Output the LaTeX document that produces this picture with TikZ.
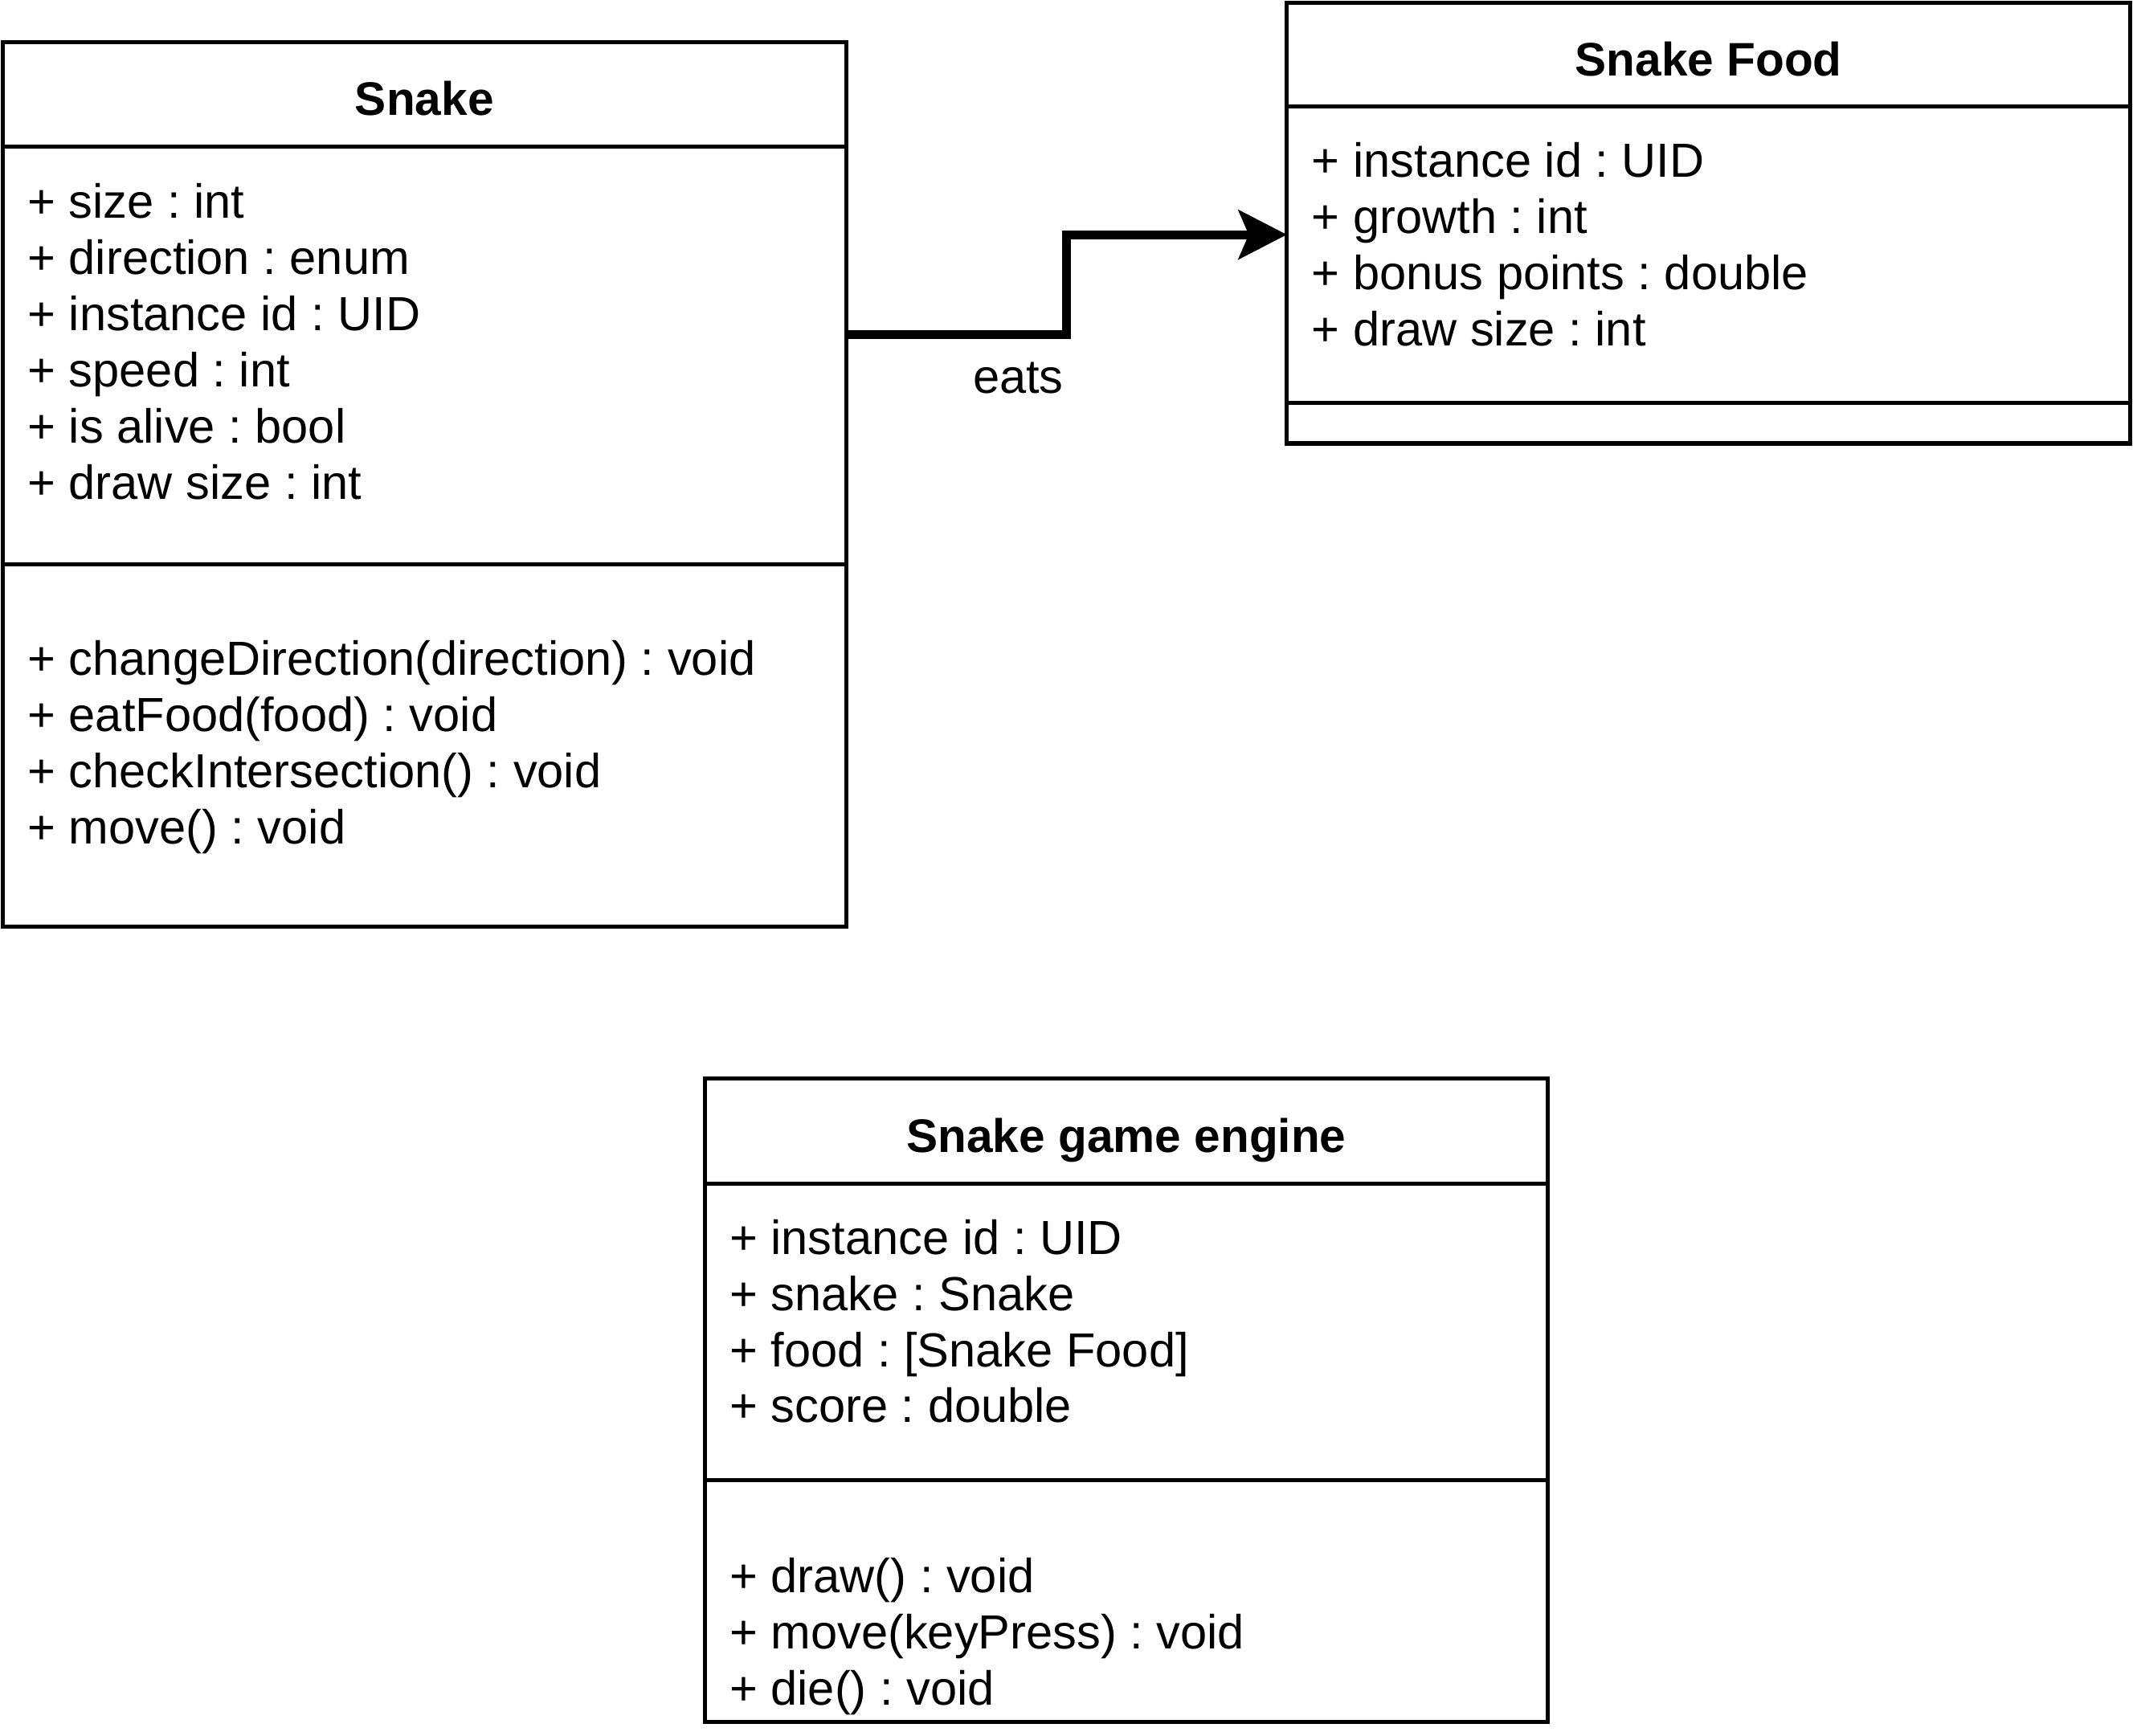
\documentclass[tikz,border=0pt]{standalone}
\usepackage{fontspec}
\setmainfont{Liberation Sans}
\usetikzlibrary{calc,arrows.meta}
\frenchspacing
\begin{document}
\begin{tikzpicture}[x=0.5pt,y=-0.5pt,
  part/.style={draw,line width=1.5pt,inner sep=0pt,outer sep=0pt,anchor=north west,minimum width=310pt},
  txt/.style={font=\fontsize{17.6}{20.65}\selectfont\frenchspacing,align=left,anchor=base west,inner sep=0pt},
  head/.style={font=\fontsize{17.3}{20.65}\selectfont\bfseries,anchor=base,inner sep=0pt},
  lbl/.style={font=\fontsize{17.6}{20.65}\selectfont,anchor=base,inner sep=0pt},
  conn/.style={line width=3.2pt,-{Stealth[length=17.75pt,width=18pt,inset=3.75pt]}}]
\useasboundingbox (0,0) rectangle (1568,1276);

% Snake
\node[part,minimum height=38.5pt] (snakehead) at (2,31) {};
\node[part,minimum height=153.5pt] (snakeattr) at (2,108) {};
\node[part,minimum height=133pt] (snakemeth) at (2,415) {};
\node[head] (snaketitle) at (312,85) {Snake};
% base anchor of a multi-line node is the last line's baseline
\node[txt] (snakeattrtxt) at (20,367) {+ size : int\\+ direction : enum\\+ instance id : UID\\+ speed : int\\+ is alive : bool\\+ draw size : int};
\node[txt] (snakemethtxt) at (20,620.4) {+ changeDirection(direction) : void\\+ eatFood(food) : void\\+ checkIntersection() : void\\+ move() : void};

% Snake Food
\node[part,minimum height=38pt] (foodhead) at (946,2) {};
\node[part,minimum height=109pt] (foodattr) at (946,78) {};
\node[part,minimum height=15pt] (foodmeth) at (946,296) {};
\node[head] (foodtitle) at (1256,56) {Snake Food};
\node[txt] (foodattrtxt) at (964,254.4) {+ instance id : UID\\+ growth : int\\+ bonus points : double\\+ draw size : int};

% Snake game engine
\node[part,minimum height=38.5pt] (enghead) at (518,793) {};
\node[part,minimum height=109pt] (engattr) at (518,870) {};
\node[part,minimum height=89pt] (engmeth) at (518,1088) {};
\node[head] (engtitle) at (828,847) {Snake game engine};
\node[txt] (engattrtxt) at (536,1045.9) {+ instance id : UID\\+ snake : Snake\\+ food : [Snake Food]\\+ score : double};
\node[txt] (engmethtxt) at (536,1253.6) {+ draw() : void\\+ move(keyPress) : void\\+ die() : void};

% eats connector
\coordinate (src) at ($(snakeattr.north east)+(0,138)$);
\coordinate (dst) at ($(foodattr.north west)+(0,94.5)$);
\draw[conn] (src) -| ($(src)!0.5!(dst)$) |- (dst);
\node[lbl] (eats) at (748.5,289) {eats};
\end{tikzpicture}
\end{document}
